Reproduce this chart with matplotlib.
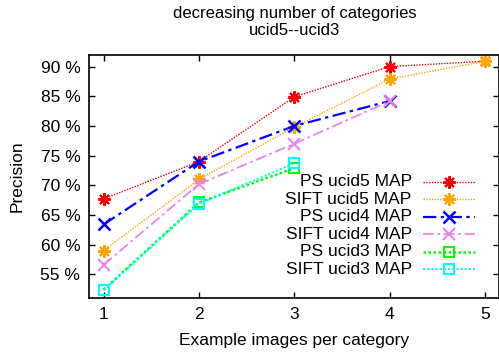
import matplotlib
matplotlib.use("Agg")
import matplotlib.pyplot as plt

plt.rcParams['font.family'] = ['Liberation Sans', 'DejaVu Sans']
plt.rcParams['font.size'] = 12.5

x_vals = [1, 2, 3, 4, 5]
ps_ucid5 = [67.7, 74.0, 84.9, 90.0, 90.9]
sift_ucid5 = [59.0, 71.0, 79.8, 87.9, 90.9]
ps_ucid4 = [63.4, 74.0, 80.0, 84.2]
sift_ucid4 = [56.6, 70.2, 77.0, 84.2]
ps_ucid3 = [52.4, 67.1, 72.9]
sift_ucid3 = [52.3, 66.9, 73.7]

labels = ["PS ucid5 MAP", "SIFT ucid5 MAP", "PS ucid4 MAP",
          "SIFT ucid4 MAP", "PS ucid3 MAP", "SIFT ucid3 MAP"]
yticks = [55, 60, 65, 70, 75, 80, 85, 90]
ytick_labels = [f"{v} %" for v in yticks]

series = [ps_ucid5, sift_ucid5, ps_ucid4, sift_ucid4, ps_ucid3, sift_ucid3]
styles = [
    dict(color='#ff0000', ls=(0, (1, 1)), lw=1.0, marker=(8, 2, 0), ms=9, mew=1.5),
    dict(color='#ffa500', ls=(0, (1, 1)), lw=1.0, marker=(8, 2, 0), ms=9, mew=1.5),
    dict(color='#0000ff', ls=(0, (6, 2, 1.5, 2)), lw=1.6, marker='x', ms=8, mew=1.8),
    dict(color='#ee82ee', ls=(0, (6, 2, 1.5, 2)), lw=1.3, marker='x', ms=8, mew=1.5),
    dict(color='#00ff00', ls=(0, (1, 1)), lw=1.8, marker='s', ms=7, mew=1.5, mfc='none'),
    dict(color='#00ffff', ls=(0, (1, 1)), lw=1.5, marker='s', ms=7, mew=1.5, mfc='none'),
]

fig = plt.figure(figsize=(4.99, 3.56), dpi=100)
ax = fig.add_axes([89.3 / 499, 1 - 298 / 356, (499.5 - 89.3) / 499, (298 - 54.7) / 356])

for vals, st in zip(series, styles):
    ax.plot(x_vals[:len(vals)], vals, **st)

ax.set_xlim(0.85, 5.15)
ax.set_ylim(51, 92)
ax.set_xticks(x_vals)
ax.set_yticks(yticks)
ax.set_yticklabels(ytick_labels)
ax.tick_params(direction='in', length=4, width=1, top=True, right=True, pad=6.5)
for sp in ax.spines.values():
    sp.set_linewidth(1.2)

ax.set_xlabel("Example images per category", labelpad=8)
ax.set_ylabel("Precision", labelpad=11)
ax.set_title("decreasing number of categories\nucid5--ucid3", pad=14, linespacing=1.2,
             fontsize=12)

# gnuplot-style legend: right-aligned text, sample to the right
def fx(px):
    return (px - 89.3) / (499.5 - 89.3)

def fy(py):
    return (298 - py) / (298 - 54.7)

row_y = [181.7, 199.3, 216.7, 234.3, 251.7, 269.0]
for lab, st, py in zip(labels, styles, row_y):
    ax.text(fx(411.7), fy(py), lab, transform=ax.transAxes, ha='right', va='center')
    line_st = {k: v for k, v in st.items() if k not in ('marker', 'ms', 'mew', 'mfc')}
    ax.plot([fx(423.3), fx(475)], [fy(py), fy(py)], transform=ax.transAxes, **line_st)
    mk_st = {k: v for k, v in st.items() if k in ('color', 'marker', 'ms', 'mew', 'mfc')}
    ax.plot([fx(449.3)], [fy(py)], transform=ax.transAxes, ls='none', **mk_st)

fig.savefig("out.png", dpi=100)
